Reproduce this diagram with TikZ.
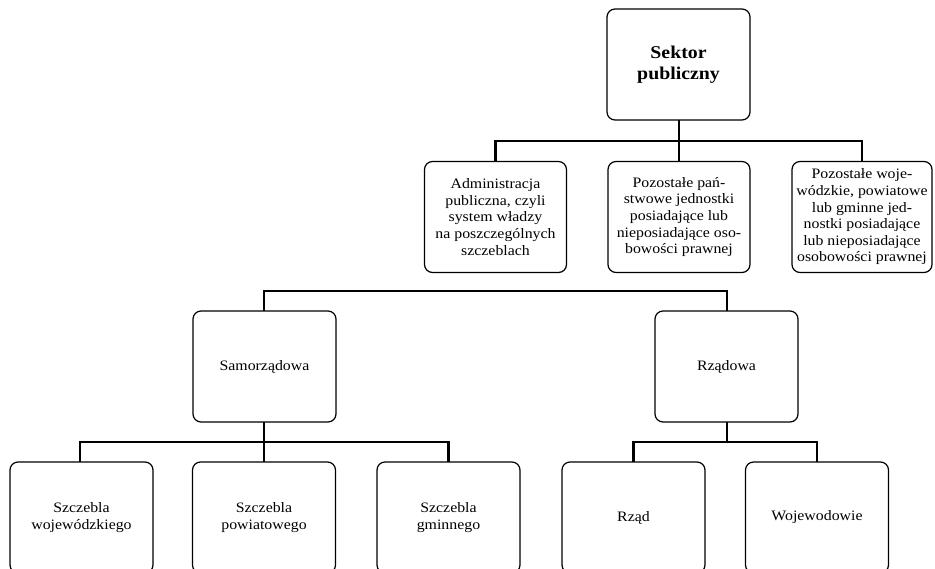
\documentclass[tikz,border=0pt]{standalone}
\usepackage{fontspec}
\setmainfont{Liberation Serif}[FakeStretch=1.1]
\begin{document}
\begin{tikzpicture}[x=1pt,y=-1pt,
  box/.style={draw, line width=1.2pt, rounded corners=8pt, fill=white,
    minimum width=142pt, minimum height=111pt, inner sep=2pt,
    align=center, font=\fontsize{14.4}{16.6}\selectfont},
  titlebox/.style={box, font=\fontsize{18}{20.5}\selectfont\bfseries},
  conn/.style={line width=2.8pt}]
\useasboundingbox (0,0) rectangle (935,568);
\clip (0,0) rectangle (935,568);

% bus levels
\coordinate (bus1) at (0,141);
\coordinate (bus2) at (0,291);
\coordinate (bus3) at (0,442);

% connectors
\coordinate (topstem) at (679,120);
\draw[conn] (topstem) -- (topstem |- bus1);
\draw[conn] (495.5,162) |- (862,141) -- (862,162);
\draw[conn] (679,141) -- (679,162);

\coordinate (samtop) at (264,311);
\coordinate (rzadtop) at (727,311);
\draw[conn] (samtop) |- (rzadtop |- bus2) -- (rzadtop);

\coordinate (sambot) at (264,422);
\coordinate (rzadbot) at (727,422);
\draw[conn] (sambot) -- (sambot |- bus3);
\draw[conn] (80,462) |- (448.5,442) -- (448.5,462);
\draw[conn] (264,442) -- (264,462);
\draw[conn] (rzadbot) -- (rzadbot |- bus3);
\draw[conn] (633.5,462) |- (817,442) -- (817,462);

% level 0
\node[titlebox, minimum width=143pt] (top) at (678.5,64.5) {Sektor\\publiczny};

% level 1
\node[box] (a1) at (495.5,217) {Administracja\\publiczna, czyli\\system władzy\\na poszczególnych\\szczeblach};
\node[box] (a2) at (679,217) {Pozostałe pań-\\stwowe jednostki\\posiadające lub\\nieposiadające oso-\\bowości prawnej};
\node[box, minimum width=140pt] (a3) at (862,217) {Pozostałe woje-\\wódzkie, powiatowe\\lub gminne jed-\\nostki posiadające\\lub nieposiadające\\osobowości prawnej};

% level 2
\node[box, minimum width=143pt] (sam) at (264.5,366.5) {Samorządowa};
\node[box, minimum width=143pt] (rzad) at (726.5,366.5) {Rządowa};

% level 3
\node[box, minimum width=143pt] (s1) at (81.5,517.5) {Szczebla\\wojewódzkiego};
\node[box, minimum width=143pt] (s2) at (264,517.5) {Szczebla\\powiatowego};
\node[box, minimum width=143pt] (s3) at (448.5,517.5) {Szczebla\\gminnego};
\node[box, minimum width=143pt] (r1) at (633.5,517.5) {Rząd};
\node[box, minimum width=143pt] (r2) at (817,517.5) {Wojewodowie};
\end{tikzpicture}
\end{document}
